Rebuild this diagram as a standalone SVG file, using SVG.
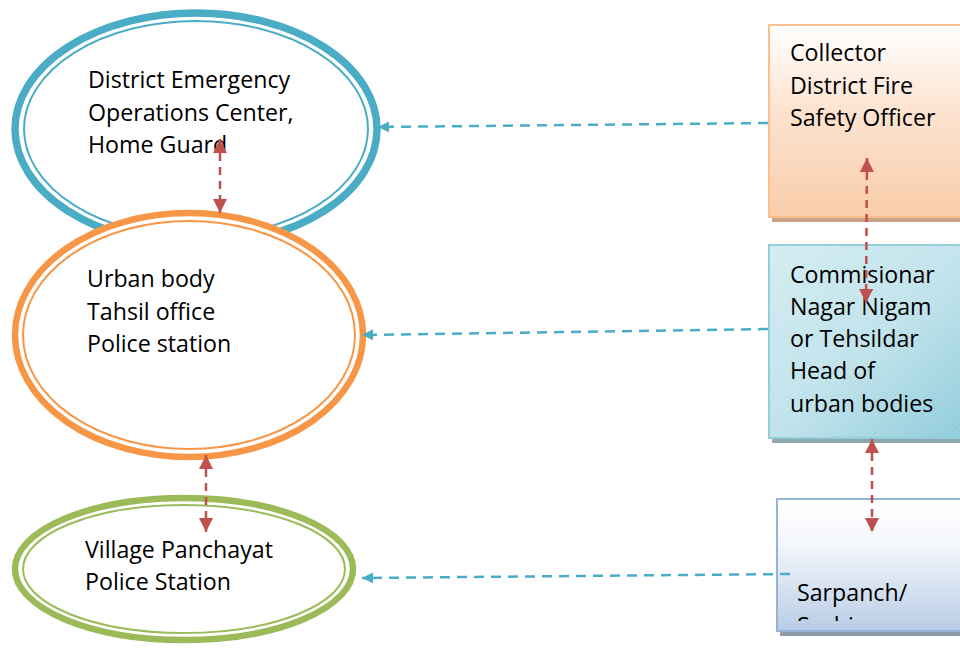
<svg xmlns="http://www.w3.org/2000/svg" width="960" height="648" viewBox="0 0 960 648">
<style>
.t{font-family:"Open Sans","Noto Sans","Liberation Sans",sans-serif;font-size:23.2px;fill:#000}
.blue{fill:none;stroke:#4BACC6;stroke-width:2.5;stroke-dasharray:10 7}
.red{fill:none;stroke:#C0504D;stroke-width:2.5;stroke-dasharray:8 6}
</style>
<defs>
<marker id="ab" viewBox="0 0 10 10" refX="10" refY="5" markerWidth="11" markerHeight="11" markerUnits="userSpaceOnUse" orient="auto"><path d="M0,0 L10,5 L0,10 Z" fill="#4BACC6"/></marker>
<marker id="ar" viewBox="0 0 10 10" refX="10" refY="5" markerWidth="14" markerHeight="14" markerUnits="userSpaceOnUse" orient="auto-start-reverse"><path d="M0,0 L10,5 L0,10 Z" fill="#C0504D"/></marker>
<linearGradient id="gOr" x1="0" y1="0" x2="0" y2="1"><stop offset="0" stop-color="#FFFFFF"/><stop offset="0.45" stop-color="#FCE3D0"/><stop offset="1" stop-color="#F9CDAA"/></linearGradient>
<linearGradient id="gBl" x1="0" y1="0" x2="1" y2="1"><stop offset="0" stop-color="#D3ECF2"/><stop offset="0.5" stop-color="#BFE2EB"/><stop offset="1" stop-color="#88C8D8"/></linearGradient>
<linearGradient id="gSa" x1="0" y1="0" x2="0" y2="1"><stop offset="0" stop-color="#FFFFFF"/><stop offset="0.35" stop-color="#F3F6FB"/><stop offset="1" stop-color="#B9CDE6"/></linearGradient>
<pattern id="hatch" width="4" height="4" patternUnits="userSpaceOnUse" patternTransform="rotate(-40)"><line x1="0" y1="0" x2="4" y2="0" stroke="#FFFFFF" stroke-opacity="0.35" stroke-width="0.8"/></pattern>
<clipPath id="sclip"><rect x="777" y="499" width="200" height="122"/></clipPath>
</defs>

<g id="node-district">
<ellipse cx="196" cy="129" rx="181" ry="116" fill="#FFFFFF" stroke="#4BACC6" stroke-width="7.5"/>
<ellipse cx="196" cy="129" rx="172" ry="108" fill="none" stroke="#4BACC6" stroke-width="2"/>
<text class="t" x="88" y="88">District Emergency</text>
<text class="t" x="88" y="120.5">Operations Center,</text>
<text class="t" x="88" y="153">Home Guard</text>
</g>

<g id="node-urban">
<ellipse cx="189" cy="335" rx="174" ry="122" fill="#FFFFFF" stroke="#F79646" stroke-width="6.5"/>
<ellipse cx="189" cy="335" rx="166" ry="114" fill="none" stroke="#F79646" stroke-width="2"/>
<text class="t" x="87" y="287">Urban body</text>
<text class="t" x="87" y="319.5">Tahsil office</text>
<text class="t" x="87" y="352">Police station</text>
</g>

<g id="node-village">
<ellipse cx="184" cy="569" rx="169" ry="71" fill="#FFFFFF" stroke="#9BBB59" stroke-width="6.5"/>
<ellipse cx="184" cy="569" rx="161" ry="64" fill="none" stroke="#9BBB59" stroke-width="2"/>
<text class="t" x="85" y="558">Village Panchayat</text>
<text class="t" x="85" y="590">Police Station</text>
</g>

<g id="node-collector">
<rect x="772" y="28" width="220" height="194" fill="#C9A386"/>
<rect x="769" y="25" width="220" height="192" fill="url(#gOr)" stroke="#FAC08F" stroke-width="2"/>
<text class="t" x="790" y="61">Collector</text>
<text class="t" x="790" y="93.5">District Fire</text>
<text class="t" x="790" y="126">Safety Officer</text>
</g>

<g id="node-commissioner">
<rect x="772" y="248" width="220" height="195" fill="#8FA8AE"/>
<rect x="769" y="245" width="220" height="193" fill="url(#gBl)" stroke="#92CDDC" stroke-width="2"/>
<rect x="769" y="245" width="220" height="193" fill="url(#hatch)"/>
<text class="t" x="790" y="283">Commisionar</text>
<text class="t" x="790" y="315">Nagar Nigam</text>
<text class="t" x="790" y="347">or Tehsildar</text>
<text class="t" x="790" y="379">Head of</text>
<text class="t" x="790" y="411.5">urban bodies</text>
</g>

<g id="node-sarpanch">
<rect x="780" y="502" width="220" height="134" fill="#8E9BA8"/>
<rect x="777" y="499" width="220" height="132" fill="url(#gSa)" stroke="#95B3D7" stroke-width="2"/>
<text class="t" x="797" y="601">Sarpanch/</text>
<text class="t" x="797" y="633.5" clip-path="url(#sclip)">Sachiv</text>
</g>

<g id="connectors">
<line class="blue" x1="768" y1="123" x2="378" y2="127" marker-end="url(#ab)"/>
<line class="blue" x1="768" y1="329" x2="362" y2="335" marker-end="url(#ab)"/>
<line class="blue" x1="790" y1="574" x2="362" y2="578" marker-end="url(#ab)"/>
<line class="red" x1="220" y1="139" x2="220" y2="213" marker-start="url(#ar)" marker-end="url(#ar)"/>
<line class="red" x1="206" y1="455" x2="206" y2="532" marker-start="url(#ar)" marker-end="url(#ar)"/>
<line class="red" x1="867" y1="158" x2="866" y2="303" marker-start="url(#ar)" marker-end="url(#ar)"/>
<line class="red" x1="872" y1="439" x2="872" y2="532" marker-start="url(#ar)" marker-end="url(#ar)"/>
</g>
</svg>
